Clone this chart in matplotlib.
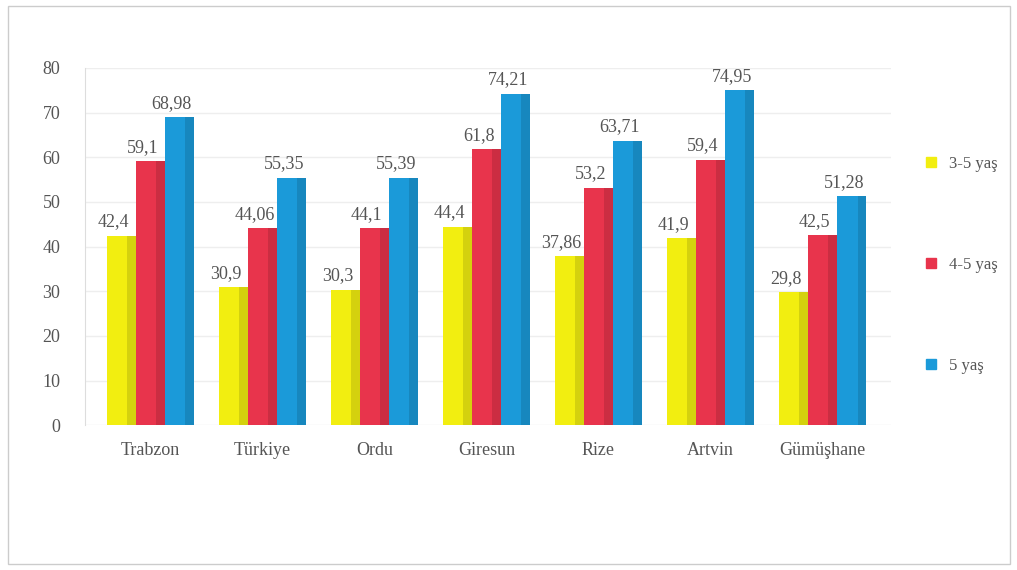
"""
Grouped column chart: schooling rates by age group for Trabzon and
neighbouring provinces compared with Türkiye.
"""
import numpy as np
import matplotlib.pyplot as plt
from matplotlib.lines import Line2D

plt.rcParams['font.family'] = ['Liberation Serif', 'DejaVu Serif']

provinces = ['Trabzon', 'Türkiye', 'Ordu', 'Giresun', 'Rize', 'Artvin', 'Gümüşhane']
series_names = ['3-5 yaş', '4-5 yaş', '5 yaş']

# values (some labels are partly hidden by bars)
age_3_5 = [42.4, 30.9, 30.3, 44.4, 37.86, 41.9, 29.8]
age_4_5 = [59.1, 44.06, 44.1, 61.8, 53.2, 59.4, 42.5]
age_5 = [68.98, 55.35, 55.39, 74.21, 63.71, 74.95, 51.28]

colors = ['#f2ee10', '#e8344c', '#1b9ad9']
TEXT = '#555555'


def label(v):
    return f'{v:g}'.replace('.', ',')


def main() -> None:
    fig = plt.figure(figsize=(10.17, 5.70), dpi=100)
    ax = fig.add_axes([0.084, 0.254, 0.792, 0.627])

    x = np.arange(len(provinces))
    width = 0.26
    for i, (vals, name, col) in enumerate(zip([age_3_5, age_4_5, age_5],
                                               series_names, colors)):
        pos = x + (i - 1) * width
        ax.bar(pos, vals, width=width, color=col, label=name, zorder=3,
               edgecolor='none')
        # darker right strip for a little depth
        ax.bar(pos + width * 0.35, vals, width=width * 0.3, color='black',
               alpha=0.12, zorder=3.1, edgecolor='none')
        for p, v in zip(pos, vals):
            ax.text(p - 0.07, v + 1.2, label(v), ha='center', va='bottom',
                    fontsize=13, color=TEXT, zorder=4)

    ax.set_xlim(-0.58, 6.61)
    ax.set_ylim(0, 80)
    ax.set_yticks(range(0, 81, 10))
    ax.set_xticks(x)
    ax.set_xticklabels(provinces)
    ax.tick_params(axis='both', length=0, colors=TEXT, labelsize=13)
    ax.tick_params(axis='y', pad=18)
    ax.tick_params(axis='x', pad=12)
    ax.grid(axis='y', color='#eeeeee', linewidth=1, zorder=0)
    for s in ['top', 'right', 'bottom']:
        ax.spines[s].set_visible(False)
    ax.spines['left'].set_color('#dddddd')

    handles = [Line2D([], [], marker='s', linestyle='none', color=c,
                      markersize=7) for c in colors]
    fig.legend(handles, series_names, loc='center left',
               bbox_to_anchor=(0.884, 0.535), frameon=False, fontsize=12,
               labelspacing=5.1, handletextpad=0.1, labelcolor=TEXT)

    # light frame around the whole picture
    fig.patches.append(plt.Rectangle((0.008, 0.01), 0.985, 0.98,
                                     transform=fig.transFigure, fill=False,
                                     edgecolor='#cccccc', linewidth=1))

    fig.savefig('out.png', dpi=100)


if __name__ == '__main__':
    main()
